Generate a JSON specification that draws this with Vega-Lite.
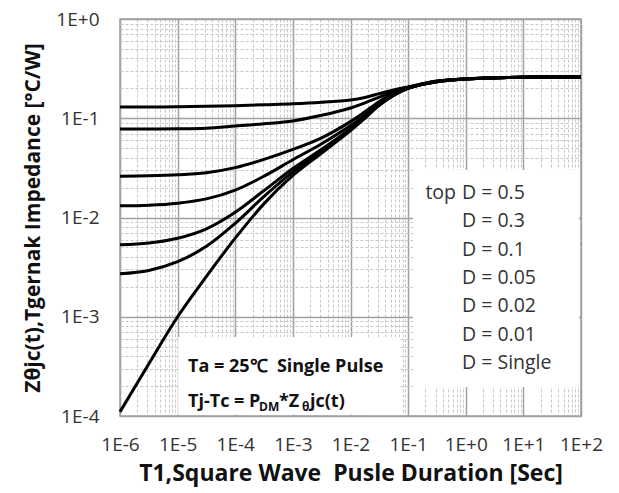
{
  "$schema": "https://vega.github.io/schema/vega-lite/v6.json",
  "width": 461,
  "height": 397,
  "autosize": {"type": "none"},
  "padding": {"left": 120, "top": 19, "right": 38, "bottom": 77},
  "background": "white",
  "config": {
    "view": {"stroke": "#a0a0a0", "strokeWidth": 1.5},
    "font": "Open Sans"
  },
  "datasets": {
    "curves": [
      {"s": "D=0.5", "t": 1e-6, "z": 0.130}, {"s": "D=0.5", "t": 3.16e-6, "z": 0.130}, {"s": "D=0.5", "t": 1e-5, "z": 0.1305}, {"s": "D=0.5", "t": 3.16e-5, "z": 0.132}, {"s": "D=0.5", "t": 1e-4, "z": 0.134}, {"s": "D=0.5", "t": 3.16e-4, "z": 0.137}, {"s": "D=0.5", "t": 1e-3, "z": 0.140}, {"s": "D=0.5", "t": 3.16e-3, "z": 0.145}, {"s": "D=0.5", "t": 1e-2, "z": 0.153}, {"s": "D=0.5", "t": 1.78e-2, "z": 0.162}, {"s": "D=0.5", "t": 3.16e-2, "z": 0.177}, {"s": "D=0.5", "t": 5.62e-2, "z": 0.193}, {"s": "D=0.5", "t": 0.1, "z": 0.207}, {"s": "D=0.5", "t": 0.316, "z": 0.237}, {"s": "D=0.5", "t": 1, "z": 0.250}, {"s": "D=0.5", "t": 3.16, "z": 0.256}, {"s": "D=0.5", "t": 10, "z": 0.259}, {"s": "D=0.5", "t": 31.6, "z": 0.260}, {"s": "D=0.5", "t": 100, "z": 0.260},
      {"s": "D=0.3", "t": 1e-6, "z": 0.078}, {"s": "D=0.3", "t": 3.16e-6, "z": 0.0781}, {"s": "D=0.3", "t": 1e-5, "z": 0.0783}, {"s": "D=0.3", "t": 3.16e-5, "z": 0.0795}, {"s": "D=0.3", "t": 1e-4, "z": 0.0835}, {"s": "D=0.3", "t": 3.16e-4, "z": 0.088}, {"s": "D=0.3", "t": 1e-3, "z": 0.094}, {"s": "D=0.3", "t": 3.16e-3, "z": 0.107}, {"s": "D=0.3", "t": 1e-2, "z": 0.127}, {"s": "D=0.3", "t": 1.78e-2, "z": 0.143}, {"s": "D=0.3", "t": 3.16e-2, "z": 0.163}, {"s": "D=0.3", "t": 5.62e-2, "z": 0.186}, {"s": "D=0.3", "t": 0.1, "z": 0.204}, {"s": "D=0.3", "t": 0.316, "z": 0.236}, {"s": "D=0.3", "t": 1, "z": 0.249}, {"s": "D=0.3", "t": 3.16, "z": 0.2555}, {"s": "D=0.3", "t": 10, "z": 0.259}, {"s": "D=0.3", "t": 31.6, "z": 0.260}, {"s": "D=0.3", "t": 100, "z": 0.260},
      {"s": "D=0.1", "t": 1e-6, "z": 0.0261}, {"s": "D=0.1", "t": 3.16e-6, "z": 0.0263}, {"s": "D=0.1", "t": 1e-5, "z": 0.0269}, {"s": "D=0.1", "t": 3.16e-5, "z": 0.0283}, {"s": "D=0.1", "t": 1e-4, "z": 0.0318}, {"s": "D=0.1", "t": 3.16e-4, "z": 0.0385}, {"s": "D=0.1", "t": 1e-3, "z": 0.0485}, {"s": "D=0.1", "t": 3.16e-3, "z": 0.0635}, {"s": "D=0.1", "t": 1e-2, "z": 0.0925}, {"s": "D=0.1", "t": 1.78e-2, "z": 0.116}, {"s": "D=0.1", "t": 3.16e-2, "z": 0.1475}, {"s": "D=0.1", "t": 5.62e-2, "z": 0.179}, {"s": "D=0.1", "t": 0.1, "z": 0.204}, {"s": "D=0.1", "t": 0.316, "z": 0.2357}, {"s": "D=0.1", "t": 1, "z": 0.2492}, {"s": "D=0.1", "t": 3.16, "z": 0.2555}, {"s": "D=0.1", "t": 10, "z": 0.2591}, {"s": "D=0.1", "t": 31.6, "z": 0.260}, {"s": "D=0.1", "t": 100, "z": 0.260},
      {"s": "D=0.05", "t": 1e-6, "z": 0.0131}, {"s": "D=0.05", "t": 3.16e-6, "z": 0.0133}, {"s": "D=0.05", "t": 1e-5, "z": 0.01395}, {"s": "D=0.05", "t": 3.16e-5, "z": 0.0154}, {"s": "D=0.05", "t": 1e-4, "z": 0.0189}, {"s": "D=0.05", "t": 3.16e-4, "z": 0.0261}, {"s": "D=0.05", "t": 1e-3, "z": 0.0382}, {"s": "D=0.05", "t": 3.16e-3, "z": 0.0553}, {"s": "D=0.05", "t": 1e-2, "z": 0.0843}, {"s": "D=0.05", "t": 1.78e-2, "z": 0.108}, {"s": "D=0.05", "t": 3.16e-2, "z": 0.1413}, {"s": "D=0.05", "t": 5.62e-2, "z": 0.1745}, {"s": "D=0.05", "t": 0.1, "z": 0.202}, {"s": "D=0.05", "t": 0.316, "z": 0.2344}, {"s": "D=0.05", "t": 1, "z": 0.2486}, {"s": "D=0.05", "t": 3.16, "z": 0.2553}, {"s": "D=0.05", "t": 10, "z": 0.259}, {"s": "D=0.05", "t": 31.6, "z": 0.260}, {"s": "D=0.05", "t": 100, "z": 0.260},
      {"s": "D=0.02", "t": 1e-6, "z": 0.00531}, {"s": "D=0.02", "t": 3.16e-6, "z": 0.00553}, {"s": "D=0.02", "t": 1e-5, "z": 0.00618}, {"s": "D=0.02", "t": 3.16e-5, "z": 0.0077}, {"s": "D=0.02", "t": 1e-4, "z": 0.0113}, {"s": "D=0.02", "t": 3.16e-4, "z": 0.0187}, {"s": "D=0.02", "t": 1e-3, "z": 0.0312}, {"s": "D=0.02", "t": 3.16e-3, "z": 0.0488}, {"s": "D=0.02", "t": 1e-2, "z": 0.0787}, {"s": "D=0.02", "t": 1.78e-2, "z": 0.1032}, {"s": "D=0.02", "t": 3.16e-2, "z": 0.1375}, {"s": "D=0.02", "t": 5.62e-2, "z": 0.1718}, {"s": "D=0.02", "t": 0.1, "z": 0.2008}, {"s": "D=0.02", "t": 0.316, "z": 0.2335}, {"s": "D=0.02", "t": 1, "z": 0.2482}, {"s": "D=0.02", "t": 3.16, "z": 0.2551}, {"s": "D=0.02", "t": 10, "z": 0.259}, {"s": "D=0.02", "t": 31.6, "z": 0.260}, {"s": "D=0.02", "t": 100, "z": 0.260},
      {"s": "D=0.01", "t": 1e-6, "z": 0.00271}, {"s": "D=0.01", "t": 3.16e-6, "z": 0.00293}, {"s": "D=0.01", "t": 1e-5, "z": 0.00359}, {"s": "D=0.01", "t": 3.16e-5, "z": 0.00512}, {"s": "D=0.01", "t": 1e-4, "z": 0.00874}, {"s": "D=0.01", "t": 3.16e-4, "z": 0.0163}, {"s": "D=0.01", "t": 1e-3, "z": 0.0288}, {"s": "D=0.01", "t": 3.16e-3, "z": 0.0467}, {"s": "D=0.01", "t": 1e-2, "z": 0.0769}, {"s": "D=0.01", "t": 1.78e-2, "z": 0.1016}, {"s": "D=0.01", "t": 3.16e-2, "z": 0.1363}, {"s": "D=0.01", "t": 5.62e-2, "z": 0.1709}, {"s": "D=0.01", "t": 0.1, "z": 0.2004}, {"s": "D=0.01", "t": 0.316, "z": 0.2333}, {"s": "D=0.01", "t": 1, "z": 0.2481}, {"s": "D=0.01", "t": 3.16, "z": 0.2551}, {"s": "D=0.01", "t": 10, "z": 0.259}, {"s": "D=0.01", "t": 31.6, "z": 0.260}, {"s": "D=0.01", "t": 100, "z": 0.260},
      {"s": "Single", "t": 1e-6, "z": 0.000110}, {"s": "Single", "t": 3.16e-6, "z": 0.000335}, {"s": "Single", "t": 1e-5, "z": 0.00100}, {"s": "Single", "t": 3.16e-5, "z": 0.00255}, {"s": "Single", "t": 1e-4, "z": 0.0062}, {"s": "Single", "t": 3.16e-4, "z": 0.0138}, {"s": "Single", "t": 1e-3, "z": 0.0265}, {"s": "Single", "t": 3.16e-3, "z": 0.0445}, {"s": "Single", "t": 1e-2, "z": 0.075}, {"s": "Single", "t": 1.78e-2, "z": 0.100}, {"s": "Single", "t": 3.16e-2, "z": 0.135}, {"s": "Single", "t": 5.62e-2, "z": 0.170}, {"s": "Single", "t": 0.1, "z": 0.200}, {"s": "Single", "t": 0.316, "z": 0.233}, {"s": "Single", "t": 1, "z": 0.248}, {"s": "Single", "t": 3.16, "z": 0.255}, {"s": "Single", "t": 10, "z": 0.259}, {"s": "Single", "t": 31.6, "z": 0.260}, {"s": "Single", "t": 100, "z": 0.260}
    ]
  },
  "layer": [
    {
      "data": {"values": [{}]},
      "mark": {"type": "rect", "fill": "white", "stroke": null},
      "encoding": {
        "x": {"datum": 1.02e-5, "type": "quantitative", "scale": {"type": "log", "domain": [1e-6, 100]}},
        "x2": {"datum": 0.0723},
        "y": {"datum": 1.03e-4, "type": "quantitative", "scale": {"type": "log", "domain": [1e-4, 1]}},
        "y2": {"datum": 6.25e-4}
      }
    },
    {
      "data": {"values": [{}]},
      "mark": {"type": "rect", "fill": "white", "stroke": null},
      "encoding": {
        "x": {"datum": 0.1216, "type": "quantitative"},
        "x2": {"datum": 92},
        "y": {"datum": 1.96e-4, "type": "quantitative"},
        "y2": {"datum": 0.0301}
      }
    },
    {
      "data": {"name": "curves"},
      "mark": {"type": "line", "color": "black", "strokeWidth": 3, "interpolate": "catmull-rom"},
      "encoding": {
        "x": {
          "field": "t", "type": "quantitative",
          "scale": {"type": "log", "domain": [1e-6, 100]},
          "axis": {
            "title": "T1,Square Wave\u00a0 Pusle Duration [Sec]",
            "titleFont": "Open Sans", "titleFontSize": 23, "titleFontWeight": "bold", "titleColor": "#111",
            "titlePadding": 8,
            "values": [1e-6, 2e-6, 3e-6, 4e-6, 5e-6, 6e-6, 7e-6, 8e-6, 9e-6, 1e-5, 2e-5, 3e-5, 4e-5, 5e-5, 6e-5, 7e-5, 8e-5, 9e-5, 1e-4, 2e-4, 3e-4, 4e-4, 5e-4, 6e-4, 7e-4, 8e-4, 9e-4, 1e-3, 2e-3, 3e-3, 4e-3, 5e-3, 6e-3, 7e-3, 8e-3, 9e-3, 0.01, 0.02, 0.03, 0.04, 0.05, 0.06, 0.07, 0.08, 0.09, 0.1, 0.2, 0.3, 0.4, 0.5, 0.6, 0.7, 0.8, 0.9, 1, 2, 3, 4, 5, 6, 7, 8, 9, 10, 20, 30, 40, 50, 60, 70, 80, 90, 100],
            "labelExpr": "abs(log(datum.value)/LN10 - round(log(datum.value)/LN10)) < 0.001 ? '1E' + (round(log(datum.value)/LN10) >= 0 ? '+' : '-') + abs(round(log(datum.value)/LN10)) : ''",
            "labelFont": "Open Sans", "labelFontSize": 19, "labelColor": "#333",
            "labelPadding": 19, "labelFlush": false, "labelOverlap": false,
            "ticks": false, "tickSize": 0, "domain": false,
            "grid": true,
            "gridColor": {"condition": {"test": "abs(log(datum.value)/LN10 - round(log(datum.value)/LN10)) < 0.001", "value": "#a0a0a0"}, "value": "#c8c8c8"},
            "gridWidth": {"condition": {"test": "abs(log(datum.value)/LN10 - round(log(datum.value)/LN10)) < 0.001", "value": 1.5}, "value": 1},
            "gridDash": {"condition": {"test": "abs(log(datum.value)/LN10 - round(log(datum.value)/LN10)) < 0.001", "value": []}, "value": [3, 2]}
          }
        },
        "y": {
          "field": "z", "type": "quantitative",
          "scale": {"type": "log", "domain": [1e-4, 1]},
          "axis": {
            "title": "Zθjc(t),Tgernak Impedance [°C/W]",
            "titleFont": "Open Sans", "titleFontSize": 21, "titleFontWeight": "bold", "titleColor": "#111",
            "titlePadding": 12,
            "values": [1e-4, 2e-4, 3e-4, 4e-4, 5e-4, 6e-4, 7e-4, 8e-4, 9e-4, 1e-3, 2e-3, 3e-3, 4e-3, 5e-3, 6e-3, 7e-3, 8e-3, 9e-3, 0.01, 0.02, 0.03, 0.04, 0.05, 0.06, 0.07, 0.08, 0.09, 0.1, 0.2, 0.3, 0.4, 0.5, 0.6, 0.7, 0.8, 0.9, 1],
            "labelExpr": "abs(log(datum.value)/LN10 - round(log(datum.value)/LN10)) < 0.001 ? '1E' + (round(log(datum.value)/LN10) >= 0 ? '+' : '-') + abs(round(log(datum.value)/LN10)) : ''",
            "labelFont": "Open Sans", "labelFontSize": 19, "labelColor": "#333",
            "labelPadding": 21, "labelFlush": false, "labelOverlap": false,
            "ticks": false, "tickSize": 0, "domain": false,
            "grid": true,
            "gridColor": {"condition": {"test": "abs(log(datum.value)/LN10 - round(log(datum.value)/LN10)) < 0.001", "value": "#a0a0a0"}, "value": "#c8c8c8"},
            "gridWidth": {"condition": {"test": "abs(log(datum.value)/LN10 - round(log(datum.value)/LN10)) < 0.001", "value": 1.5}, "value": 1},
            "gridDash": {"condition": {"test": "abs(log(datum.value)/LN10 - round(log(datum.value)/LN10)) < 0.001", "value": []}, "value": [3, 2]}
          }
        },
        "detail": {"field": "s", "type": "nominal"}
      }
    },
    {
      "data": {"values": [{}]},
      "mark": {"type": "text", "align": "left", "baseline": "alphabetic", "font": "Open Sans", "fontSize": 19.5, "lineHeight": 28.3, "color": "#333",
        "text": ["D = 0.5", "D = 0.3", "D = 0.1", "D = 0.05", "D = 0.02", "D = 0.01", "D = Single"]},
      "encoding": {
        "x": {"datum": 0.861, "type": "quantitative"},
        "y": {"datum": 0.0153, "type": "quantitative"}
      }
    },
    {
      "data": {"values": [{}]},
      "mark": {"type": "text", "align": "right", "baseline": "alphabetic", "font": "Open Sans", "fontSize": 19.5, "color": "#333", "dx": -6, "text": "top"},
      "encoding": {
        "x": {"datum": 0.861, "type": "quantitative"},
        "y": {"datum": 0.0153, "type": "quantitative"}
      }
    },
    {
      "data": {"values": [{}]},
      "mark": {"type": "text", "align": "left", "baseline": "alphabetic", "font": "Open Sans", "fontSize": 18, "fontWeight": "bold", "color": "#111", "text": "Ta = 25℃\u00a0 Single Pulse"},
      "encoding": {
        "x": {"datum": 1.514e-5, "type": "quantitative"},
        "y": {"datum": 2.77e-4, "type": "quantitative"}
      }
    },
    {
      "data": {"values": [{}]},
      "mark": {"type": "text", "align": "left", "baseline": "alphabetic", "font": "Open Sans", "fontSize": 18, "fontWeight": "bold", "color": "#111", "text": "Tj-Tc = P"},
      "encoding": {
        "x": {"datum": 1.514e-5, "type": "quantitative"},
        "y": {"datum": 1.23e-4, "type": "quantitative"}
      }
    },
    {
      "data": {"values": [{}]},
      "mark": {"type": "text", "align": "left", "baseline": "alphabetic", "font": "Open Sans", "fontSize": 12, "fontWeight": "bold", "color": "#111", "dx": 71, "dy": 4, "text": "DM"},
      "encoding": {
        "x": {"datum": 1.514e-5, "type": "quantitative"},
        "y": {"datum": 1.23e-4, "type": "quantitative"}
      }
    },
    {
      "data": {"values": [{}]},
      "mark": {"type": "text", "align": "left", "baseline": "alphabetic", "font": "Open Sans", "fontSize": 18, "fontWeight": "bold", "color": "#111", "dx": 91, "text": "*Z"},
      "encoding": {
        "x": {"datum": 1.514e-5, "type": "quantitative"},
        "y": {"datum": 1.23e-4, "type": "quantitative"}
      }
    },
    {
      "data": {"values": [{}]},
      "mark": {"type": "text", "align": "left", "baseline": "alphabetic", "font": "Open Sans", "fontSize": 12, "fontWeight": "bold", "color": "#111", "dx": 114, "dy": 4, "text": "θ"},
      "encoding": {
        "x": {"datum": 1.514e-5, "type": "quantitative"},
        "y": {"datum": 1.23e-4, "type": "quantitative"}
      }
    },
    {
      "data": {"values": [{}]},
      "mark": {"type": "text", "align": "left", "baseline": "alphabetic", "font": "Open Sans", "fontSize": 18, "fontWeight": "bold", "color": "#111", "dx": 122, "text": "jc(t)"},
      "encoding": {
        "x": {"datum": 1.514e-5, "type": "quantitative"},
        "y": {"datum": 1.23e-4, "type": "quantitative"}
      }
    }
  ]
}
